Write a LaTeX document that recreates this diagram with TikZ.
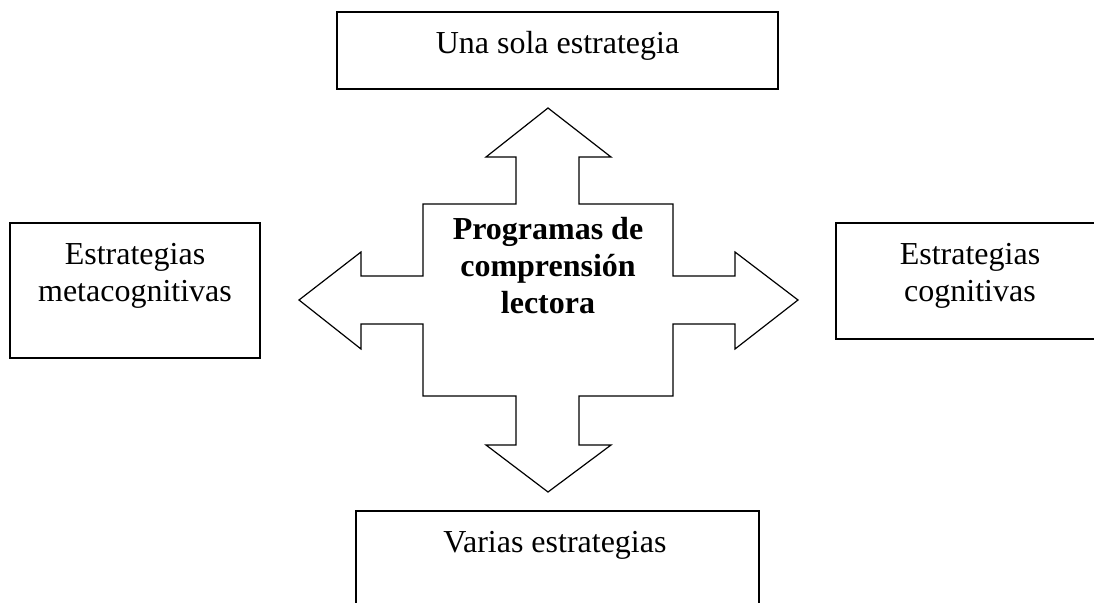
\documentclass[tikz,border=0pt]{standalone}
\usepackage{fontspec}
\setmainfont{Liberation Serif}
\usetikzlibrary{calc}

\begin{document}
\begin{tikzpicture}[x=1pt,y=-1pt,
    box/.style={draw,line width=1.4pt,inner sep=0pt},
    lbl/.style={font=\fontsize{32}{37}\selectfont,align=center,inner sep=0pt,anchor=base}]
    \clip (0,0) rectangle (1094,602);
    % Coordinates of the four-way arrow
    \coordinate (T)   at (548,108); % Top tip
    \coordinate (B)   at (548,492); % Bottom tip
    \coordinate (L)   at (299,300); % Left tip
    \coordinate (R)   at (798,300); % Right tip
    \draw[line width=1.2pt,fill=white]
        (T) -- (611,157) -- (579,157) -- (579,204) -- (673,204) -- (673,276)
        -- (735,276) -- (735,252) -- (R) -- (735,349) -- (735,324) -- (673,324)
        -- (673,396) -- (579,396) -- (579,445) -- (611,445) -- (B) -- (486,445)
        -- (516,445) -- (516,396) -- (423,396) -- (423,324) -- (361,324)
        -- (361,349) -- (L) -- (361,252) -- (361,276) -- (423,276) -- (423,204)
        -- (516,204) -- (516,157) -- (486,157) -- cycle;
    \node[lbl,font=\fontsize{32}{37}\selectfont\bfseries] (prog) at (548,313)
        {Programas de\\comprensión\\lectora};
    % Boxes
    \node[box,minimum width=441pt,minimum height=77pt] (una) at (557.5,50.5) {};
    \node[box,minimum width=250pt,minimum height=135pt] (meta) at (135,290.5) {};
    \node[box,minimum width=300pt,minimum height=116pt] (cogn) at (986,281) {};
    \node[box,minimum width=403pt,minimum height=130pt] (varias) at (557.5,576) {};
    \node[lbl] (tuna) at (557.5,54) {Una sola estrategia};
    \node[lbl] (tmeta) at (135,301) {Estrategias\\metacognitivas};
    \node[lbl] (tcogn) at (970,301) {Estrategias\\cognitivas};
    \node[lbl] (tvarias) at (555,552) {Varias estrategias};
\end{tikzpicture}
\end{document}
